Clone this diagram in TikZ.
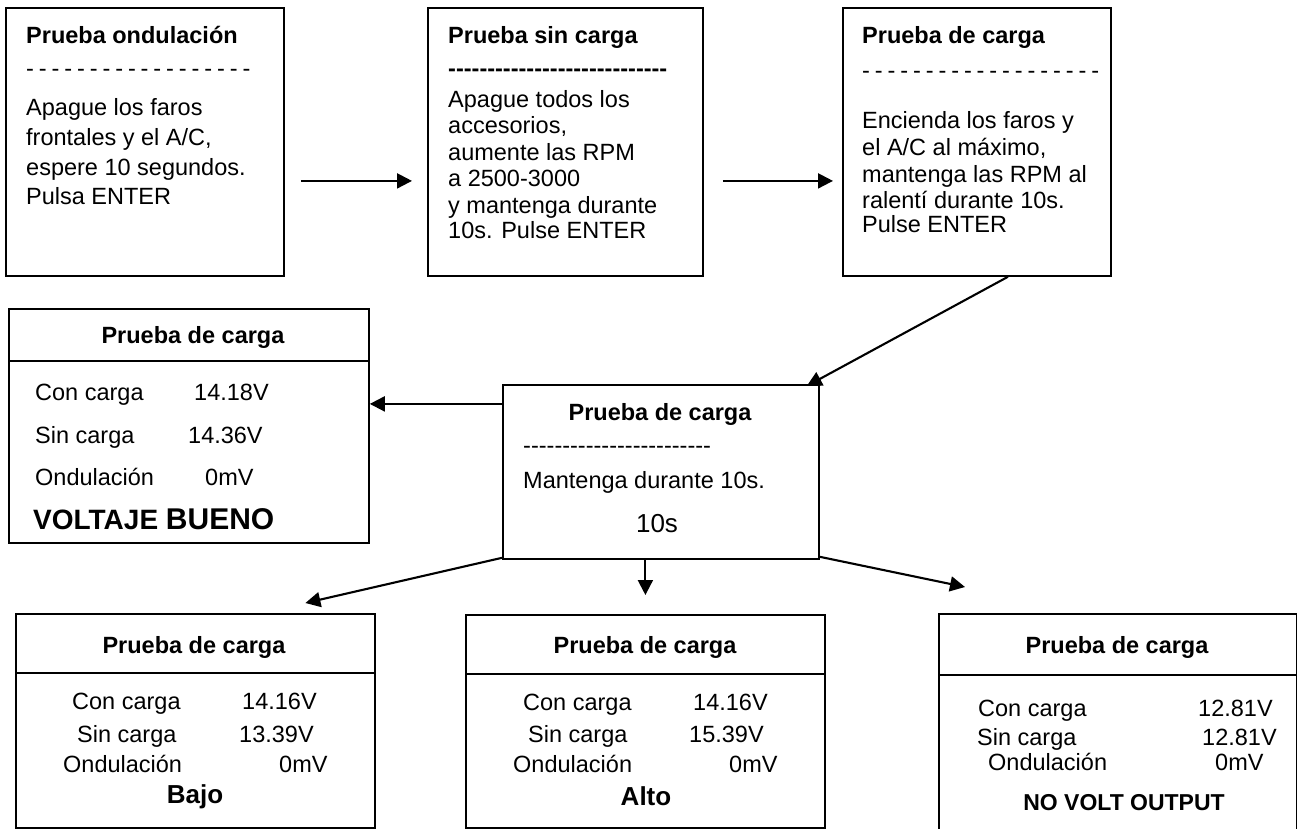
\documentclass[tikz,border=0pt]{standalone}
\usepackage{fontspec}
\setmainfont{Liberation Sans}
\usetikzlibrary{arrows.meta}
\newcommand\hyrun[1]{\foreach \k in {1,...,#1}{-\kern0pt}}
\newcommand\spdashes[2]{\foreach \k in {1,...,#1}{-\hspace{#2}}}
\begin{document}
\begin{tikzpicture}[x=1pt,y=-1pt,
  box/.style={draw,line width=1.8pt,inner sep=0pt,anchor=north west},
  txt/.style={anchor=base west,inner sep=0pt,font=\fontsize{23.5}{28}\selectfont},
  ttl/.style={anchor=base west,inner sep=0pt,font=\fontsize{23.5}{28}\selectfont\bfseries},
  ctr/.style={anchor=base,inner sep=0pt,font=\fontsize{23.5}{28}\selectfont\bfseries},
  conn/.style={line width=2.1pt,-{Triangle[length=15pt,width=15pt]}},
  sep/.style={line width=1.8pt}]
\useasboundingbox (0,0) rectangle (1297,828);

% boxes
\node[box,minimum width=278pt,minimum height=268pt] (b1) at (5,7) {};
\node[box,minimum width=275pt,minimum height=268pt] (b2) at (427,7) {};
\node[box,minimum width=268pt,minimum height=268pt] (b3) at (842,7) {};
\node[box,minimum width=316pt,minimum height=174pt] (bm) at (502,384) {};
\node[box,minimum width=360pt,minimum height=234pt] (bl) at (8,308) {};
\node[box,minimum width=359pt,minimum height=214pt] (bbl) at (15,613) {};
\node[box,minimum width=359pt,minimum height=213pt] (bbm) at (465,614) {};
\node[box,minimum width=358pt,minimum height=225pt] (bbr) at (938,613) {};

% separators
\draw[sep] (bl.west |- 0,361) -- (bl.east |- 0,361);
\draw[sep] (bbl.west |- 0,673) -- (bbl.east |- 0,673);
\draw[sep] (bbm.west |- 0,674) -- (bbm.east |- 0,674);
\draw[sep] (bbr.west |- 0,675) -- (bbr.east |- 0,675);

% connectors
\draw[conn] ([xshift=16pt,yshift=-39pt]b1.east) -- ([xshift=-15pt,yshift=-39pt]b2.west);
\draw[conn] ([xshift=19pt,yshift=-39pt]b2.east) -- ([xshift=-9pt,yshift=-39pt]b3.west);
\draw[conn] ([xshift=31pt]b3.south) -- ([xshift=-13pt,yshift=-2pt]bm.north east);
\draw[conn] ([yshift=68pt]bm.west) -- ([yshift=68pt]bm.west -| bl.east);
\draw[conn] ([yshift=2pt]bm.south west) -- ([xshift=110pt,yshift=10pt]bbl.north);
\draw[conn] (bbm.north |- bm.south) -- ([yshift=19pt]bbm.north);
\draw[conn] ([yshift=3pt]bm.south east) -- ([xshift=27pt,yshift=26pt]bbr.north west);

% box 1
\node[ttl] (t1) at (26,43) {Prueba ondulación};
\node[txt] (d1) at (26,76) {\spdashes{18}{4.9pt}};
\node[txt] (t1a) at (26,115) {Apague los faros};
\node[txt] (t1b) at (26,145) {frontales y el A/C,};
\node[txt] (t1c) at (26,175) {espere 10 segundos.};
\node[txt] (t1d) at (26,204) {Pulsa ENTER};

% box 2
\node[ttl] (t2) at (448,43) {Prueba sin carga};
\node[ttl] (d2) at (448,76) {\hyrun{28}};
\node[txt] (t2a) at (448,107) {Apague todos los};
\node[txt] (t2b) at (448,133) {accesorios,};
\node[txt] (t2c) at (448,160) {aumente las RPM};
\node[txt] (t2d) at (448,186) {a 2500-3000};
\node[txt] (t2e) at (448,213) {y mantenga durante};
\node[txt] (t2f) at (448,238) {10s. Pulse ENTER};

% box 3
\node[ttl] (t3) at (862,43) {Prueba de carga};
\node[txt] (d3) at (862,78) {\spdashes{19}{4.9pt}};
\node[txt] (t3a) at (862,128) {Encienda los faros y};
\node[txt] (t3b) at (862,155) {el A/C al máximo,};
\node[txt] (t3c) at (862,182) {mantenga las RPM al};
\node[txt] (t3d) at (862,208) {ralentí durante 10s.};
\node[txt] (t3e) at (862,232) {Pulse ENTER};

% middle box
\node[ctr] (tm) at (660,420) {Prueba de carga};
\node[txt] (dm) at (523,453) {\hyrun{24}};
\node[txt] (tma) at (523,488) {Mantenga durante 10s.};
\node[anchor=base,inner sep=0pt,font=\fontsize{26}{30}\selectfont] (tmb) at (657,532) {10s};

% left box
\node[ctr] (tl) at (193,343) {Prueba de carga};
\node[txt] (tla) at (35,400) {Con carga};
\node[txt] (vla) at (194,400) {14.18V};
\node[txt] (tlb) at (35,443) {Sin carga};
\node[txt] (vlb) at (188,443) {14.36V};
\node[txt] (tlc) at (35,485) {Ondulación};
\node[txt] (vlc) at (205,485) {0mV};
\node[anchor=base west,inner sep=0pt,font=\fontsize{28}{32}\selectfont\bfseries] (tld) at (33,529) {VOLTAJE {\fontsize{30}{34}\selectfont BUENO}};

% bottom left
\node[ctr] (tbl) at (194,653) {Prueba de carga};
\node[txt] (tbla) at (72,709) {Con carga};
\node[txt] (vbla) at (242,709) {14.16V};
\node[txt] (tblb) at (77,742) {Sin carga};
\node[txt] (vblb) at (239,742) {13.39V};
\node[txt] (tblc) at (63,772) {Ondulación};
\node[txt] (vblc) at (279,772) {0mV};
\node[anchor=base,inner sep=0pt,font=\fontsize{26}{30}\selectfont\bfseries] (tbld) at (195,803) {Bajo};

% bottom middle
\node[ctr] (tbm) at (645,653) {Prueba de carga};
\node[txt] (tbma) at (523,710) {Con carga};
\node[txt] (vbma) at (693,710) {14.16V};
\node[txt] (tbmb) at (528,742) {Sin carga};
\node[txt] (vbmb) at (689,742) {15.39V};
\node[txt] (tbmc) at (513,772) {Ondulación};
\node[txt] (vbmc) at (729,772) {0mV};
\node[anchor=base,inner sep=0pt,font=\fontsize{26}{30}\selectfont\bfseries] (tbmd) at (646,805) {Alto};

% bottom right
\node[ctr] (tbr) at (1117,653) {Prueba de carga};
\node[txt] (tbra) at (978,716) {Con carga};
\node[txt] (vbra) at (1198,716) {12.81V};
\node[txt] (tbrb) at (977,745) {Sin carga};
\node[txt] (vbrb) at (1202,745) {12.81V};
\node[txt] (tbrc) at (988,770) {Ondulación};
\node[txt] (vbrc) at (1215,770) {0mV};
\node[anchor=base,inner sep=0pt,font=\fontsize{23}{27}\selectfont\bfseries] (tbrd) at (1124,810) {NO VOLT OUTPUT};
\end{tikzpicture}
\end{document}
